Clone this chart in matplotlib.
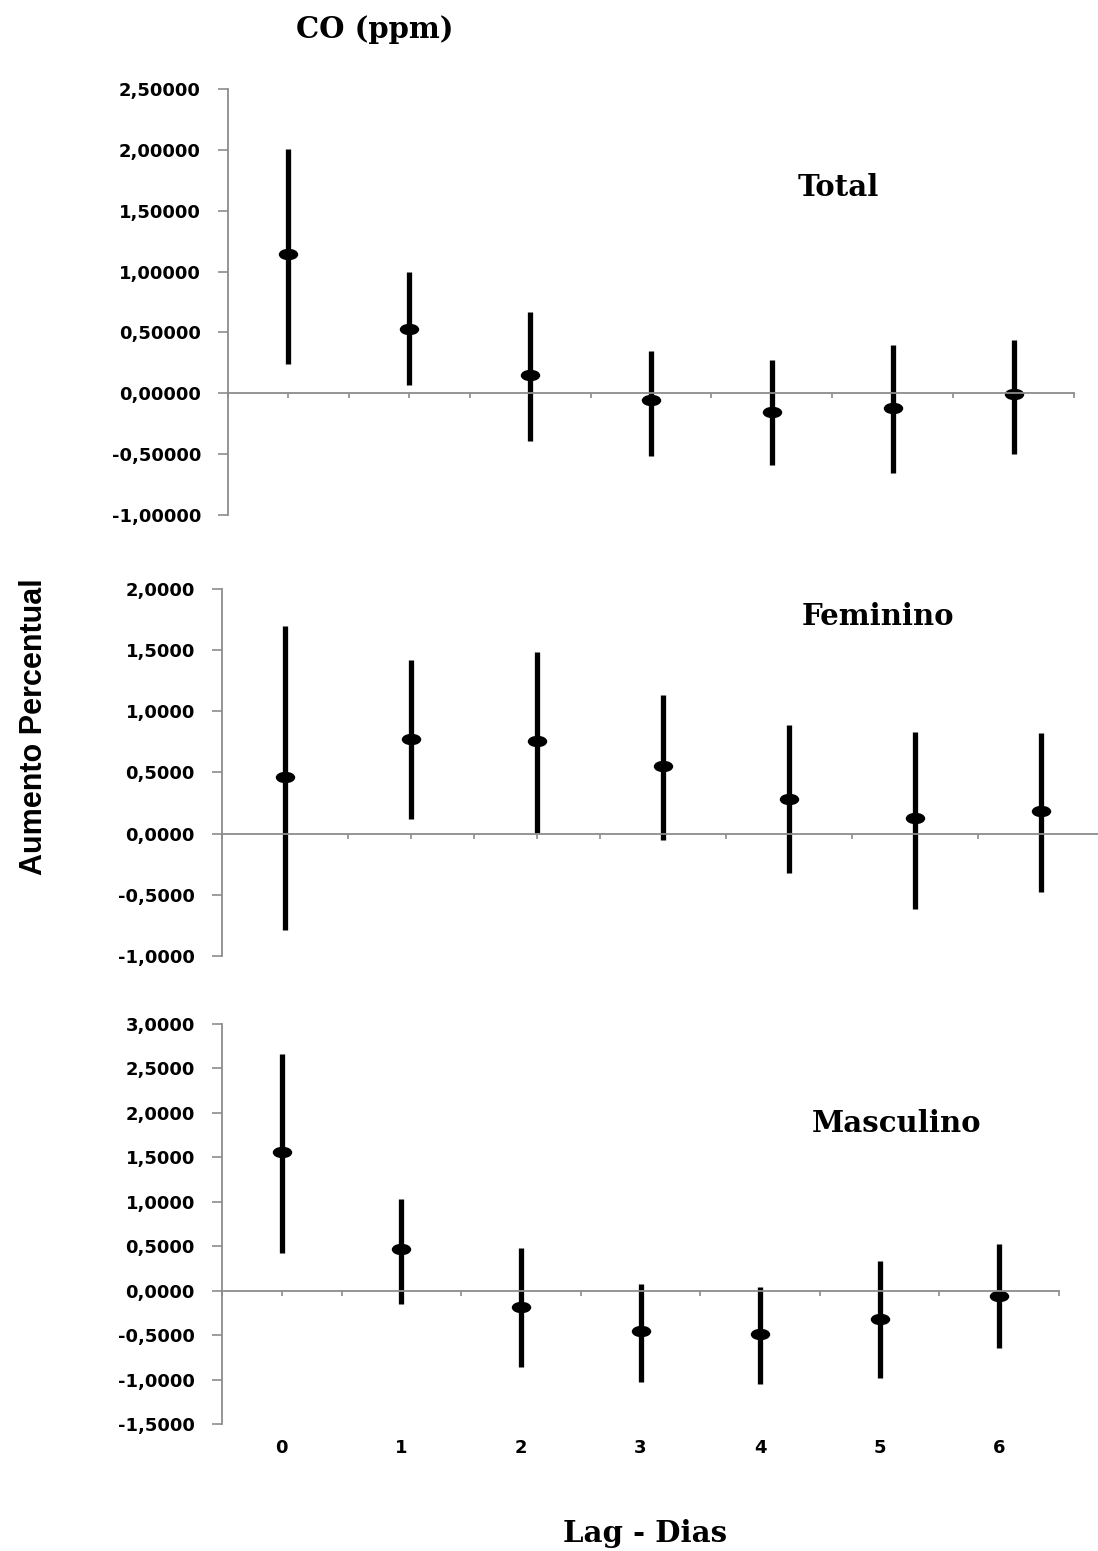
import numpy as np
import matplotlib.pyplot as plt
from matplotlib.path import Path
from matplotlib.transforms import Affine2D, blended_transform_factory

# lags (days)
lags = [0, 1, 2, 3, 4, 5, 6]
lag_labels = ['0', '1', '2', '3', '4', '5', '6']

# Total
total_est = [1.143, 0.532, 0.148, -0.058, -0.154, -0.118, -0.008]
total_low = [0.238, 0.066, -0.392, -0.518, -0.586, -0.655, -0.496]
total_high = [2.010, 0.998, 0.664, 0.348, 0.277, 0.400, 0.436]

# Feminino
fem_est = [0.461, 0.776, 0.757, 0.552, 0.287, 0.129, 0.183]
fem_low = [-0.787, 0.120, 0.006, -0.055, -0.322, -0.617, -0.478]
fem_high = [1.694, 1.418, 1.486, 1.131, 0.888, 0.834, 0.820]

# Masculino
masc_est = [1.558, 0.466, -0.179, -0.459, -0.485, -0.324, -0.056]
masc_low = [0.428, -0.149, -0.858, -1.026, -1.051, -0.981, -0.645]
masc_high = [2.666, 1.026, 0.477, 0.075, 0.045, 0.336, 0.522]

total_ticks = [-1.0, -0.5, 0.0, 0.5, 1.0, 1.5, 2.0, 2.5]
total_ticklabels = ['-1,00000', '-0,50000', '0,00000', '0,50000',
                    '1,00000', '1,50000', '2,00000', '2,50000']
fem_ticks = [-1.0, -0.5, 0.0, 0.5, 1.0, 1.5, 2.0]
fem_ticklabels = ['-1,0000', '-0,5000', '0,0000', '0,5000',
                  '1,0000', '1,5000', '2,0000']
masc_ticks = [-1.5, -1.0, -0.5, 0.0, 0.5, 1.0, 1.5, 2.0, 2.5, 3.0]
masc_ticklabels = ['-1,5000', '-1,0000', '-0,5000', '0,0000', '0,5000',
                   '1,0000', '1,5000', '2,0000', '2,5000', '3,0000']

W, H = 1098, 1551
fig = plt.figure(figsize=(W / 100, H / 100), dpi=100)

AXIS_GRAY = '#8c8c8c'

# wide flattened dot, like the original markers
ellipse = Path.unit_circle().transformed(Affine2D().scale(1.8, 1.0))


def make_panel(box, est, low, high, ticks, ticklabels, name, name_pos):
    l, r, t, b = box
    ax = fig.add_axes([l / W, 1 - b / H, (r - l) / W, (b - t) / H])
    ax.vlines(lags, low, high, color='black', lw=3.8)
    ax.plot(lags, est, ls='none', marker=ellipse, ms=13, color='black')

    ax.set_xlim(-0.5, 6.5)
    ax.set_ylim(ticks[0], ticks[-1])
    ax.set_yticks(ticks)
    ax.set_yticklabels(ticklabels, fontfamily='DejaVu Sans',
                       fontweight='bold', fontsize=13)
    ax.set_xticks(np.arange(-0.5, 7.0, 0.5))
    ax.set_xticklabels([])

    for s in ['top', 'right']:
        ax.spines[s].set_visible(False)
    ax.spines['bottom'].set_position(('data', 0))
    for s in ['left', 'bottom']:
        ax.spines[s].set_color(AXIS_GRAY)
        ax.spines[s].set_linewidth(1.3)
    ax.tick_params(axis='y', direction='out', length=7.5, width=1.2,
                   color=AXIS_GRAY, pad=12)
    ax.tick_params(axis='x', direction='out', length=3.5, width=1.2,
                   color=AXIS_GRAY)
    ax.patch.set_visible(False)

    fig.text(name_pos[0] / W, 1 - name_pos[1] / H, name, ha='center',
             va='center', family='DejaVu Serif', weight='bold', fontsize=21)
    return ax


make_panel((228, 1074, 89, 515), total_est, total_low, total_high,
           total_ticks, total_ticklabels, 'Total', (838, 187))
make_panel((222, 1104, 589, 956), fem_est, fem_low, fem_high,
           fem_ticks, fem_ticklabels, 'Feminino', (878, 617))
ax3 = make_panel((222, 1059, 1024, 1424), masc_est, masc_low, masc_high,
                 masc_ticks, masc_ticklabels, 'Masculino', (896, 1123))

# lag labels sit under the bottom panel, not on the zero line
trans = blended_transform_factory(ax3.transData, ax3.transAxes)
for x, lab in zip(lags, lag_labels):
    ax3.text(x, -24 / 400, lab, transform=trans, ha='center', va='center',
             fontfamily='DejaVu Sans', fontweight='bold', fontsize=13)

fig.text(375 / W, 1 - 30 / H, 'CO (ppm)', ha='center', va='center',
         family='DejaVu Serif', weight='bold', fontsize=21)
fig.text(645 / W, 1 - 1533 / H, 'Lag - Dias', ha='center', va='center',
         family='DejaVu Serif', weight='bold', fontsize=21)
fig.text(34 / W, 1 - 727 / H, 'Aumento Percentual', rotation=90,
         ha='center', va='center', family='Liberation Sans',
         weight='bold', fontsize=22)

fig.savefig('out.png', dpi=100)
